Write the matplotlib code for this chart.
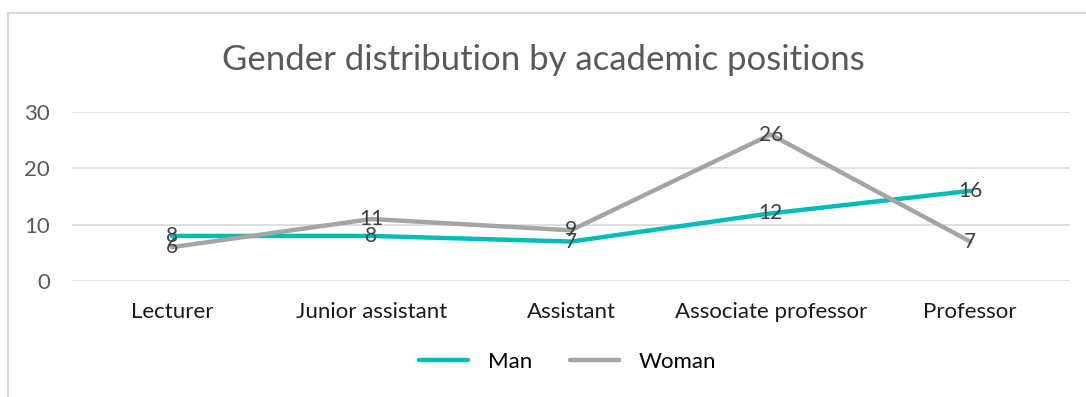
import matplotlib.pyplot as plt
from matplotlib.lines import Line2D

plt.rcParams['font.family'] = ['Lato', 'DejaVu Sans']

# Data
positions = ['Lecturer', 'Junior assistant', 'Assistant', 'Associate professor', 'Professor']
man = [8, 8, 7, 12, 16]
woman = [6, 11, 9, 26, 7]

teal = '#00BDB5'
grey = '#A5A5A5'
text_col = '#595959'

fig = plt.figure(figsize=(10.86, 3.97), dpi=100)
ax = fig.add_axes([0.0663, 0.2922, 0.919, 0.4257])

x = range(len(positions))
ax.plot(x, man, color=teal, lw=3.2, label='Man', solid_capstyle='round', zorder=3)
ax.plot(x, woman, color=grey, lw=3.2, label='Woman', solid_capstyle='round', zorder=3)

for i in x:
    ax.text(i, man[i], str(man[i]), ha='center', va='center', fontsize=15, color='#404040', zorder=4)
    ax.text(i, woman[i], str(woman[i]), ha='center', va='center', fontsize=15, color='#404040', zorder=4)

ax.set_xlim(-0.5, len(positions) - 0.5)
ax.set_ylim(0, 30)
ax.set_yticks([0, 10, 20, 30])
ax.set_xticks(list(x))
ax.set_xticklabels(positions, fontsize=16, color='#1a1a1a')
ax.tick_params(axis='y', labelsize=16, labelcolor=text_col, length=0, pad=16)
ax.tick_params(axis='x', length=0, pad=15)
ax.grid(axis='y', color='#D9D9D9', lw=1.2)
ax.set_axisbelow(True)
for s in ax.spines.values():
    s.set_visible(False)

fig.suptitle('Gender distribution by academic positions', y=0.89, fontsize=25, color=text_col)

fig.legend(loc='center', bbox_to_anchor=(0.523, 0.088), ncol=2, frameon=False,
           fontsize=16, handlelength=2.2, columnspacing=1.7, handletextpad=0.9)

# chart frame (top and left edges only)
fig.add_artist(Line2D([0.0074, 1.0], [1 - 13 / 397, 1 - 13 / 397], color='#D9D9D9', lw=1.5))
fig.add_artist(Line2D([0.0074, 0.0074], [0, 1 - 13 / 397], color='#D9D9D9', lw=1.5))

fig.savefig('out.png', dpi=100)
